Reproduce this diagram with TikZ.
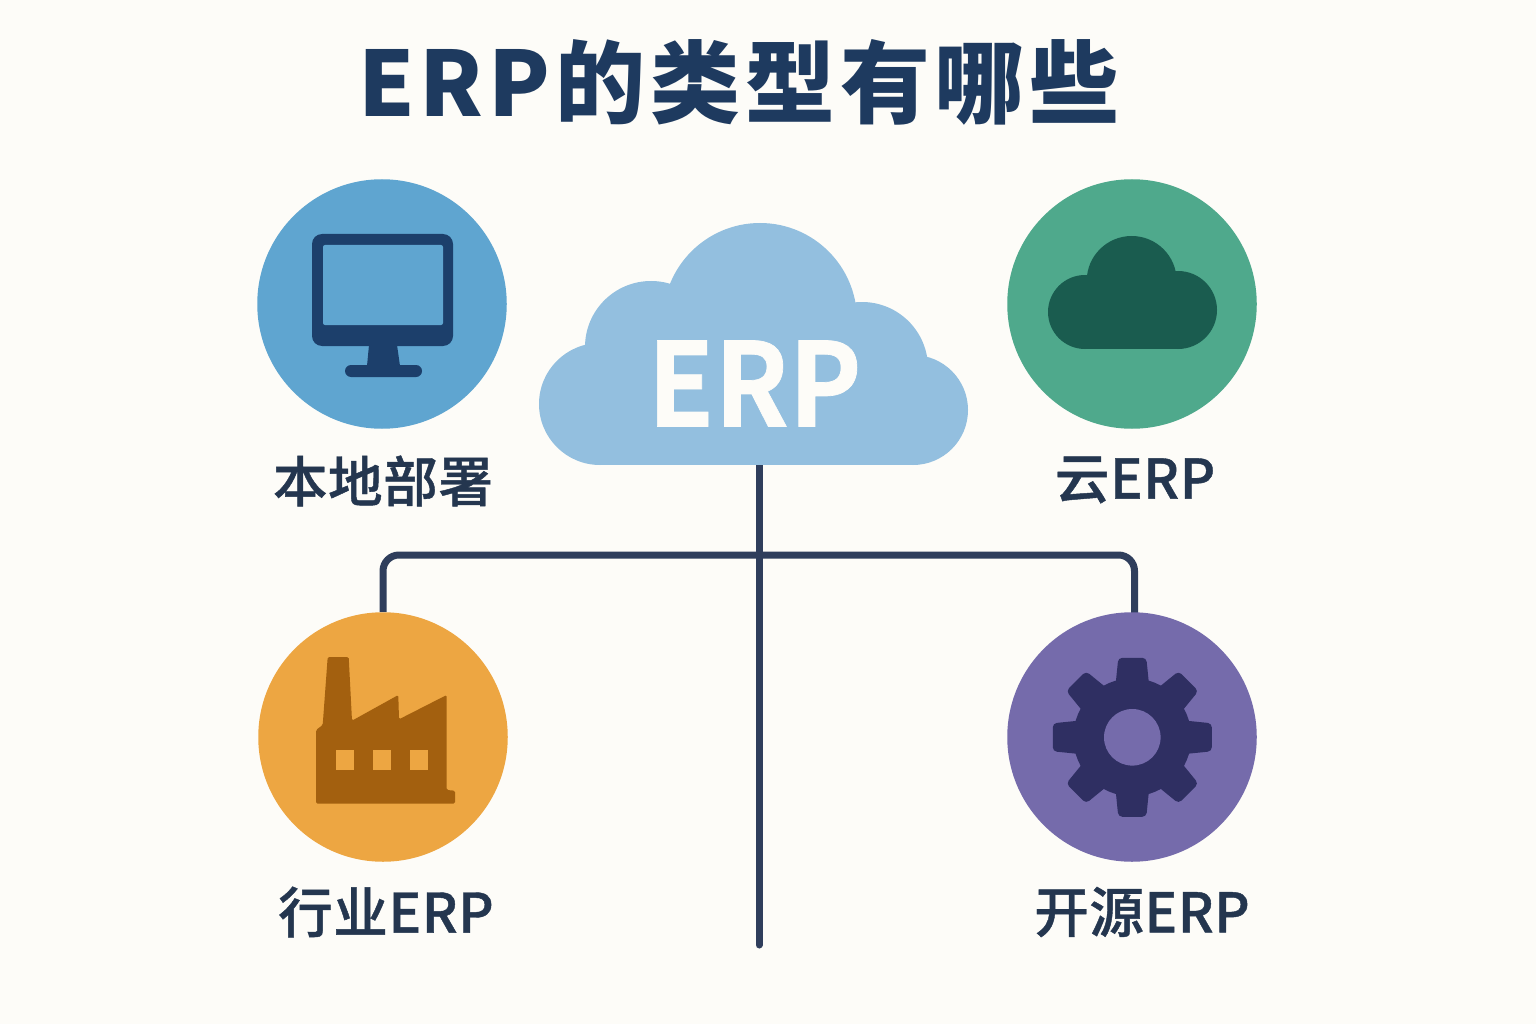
\documentclass[tikz,border=0pt]{standalone}
\usepackage{fontspec}
\newfontfamily\cjktitle[LetterSpace=5.5]{Noto Sans CJK SC Black}
\newfontfamily\cjkerp[FakeStretch=0.94,FakeBold=0.6]{Noto Sans CJK SC Bold}
\newfontfamily\cjkmed[FakeBold=0.8,LetterSpace=1.2]{Noto Sans CJK SC Medium}
\definecolor{bgc}{HTML}{FDFCF8}
\definecolor{titlec}{HTML}{1E3A5F}
\definecolor{labelc}{HTML}{24364F}
\definecolor{linec}{HTML}{2F3E5C}
\definecolor{cloudc}{HTML}{93BFDF}
\definecolor{bluec}{HTML}{5FA5D0}
\definecolor{blued}{HTML}{1C3F6B}
\definecolor{greenc}{HTML}{4FA98C}
\definecolor{greend}{HTML}{1A5C4F}
\definecolor{orangec}{HTML}{EDA642}
\definecolor{oranged}{HTML}{A3600F}
\definecolor{purplec}{HTML}{756BAB}
\definecolor{purpled}{HTML}{2F2F62}
\tikzset{
  disc/.style={circle,minimum size=249.5pt,inner sep=0pt,draw=none},
  lab/.style={text=labelc,font=\cjkmed\fontsize{54.5}{54.5}\selectfont,inner sep=0pt,anchor=center},
  conn/.style={draw=linec,line width=7pt},
  tooth/.style={fill=purpled,rounded corners=4pt},
}
\begin{document}
\begin{tikzpicture}[x=1pt,y=-1pt]
\useasboundingbox (0,0) rectangle (1536,1024);
\fill[bgc] (0,0) rectangle (1536,1024);

\node[text=titlec,font=\cjktitle\fontsize{90}{90}\selectfont,inner sep=0pt] (title) at (739,82) {ERP的类型有哪些};

\node[minimum width=420pt,minimum height=242pt,inner sep=0pt] (cloud) at (759,344) {};
\coordinate (tail) at (759,945);
\coordinate (hub) at (759,555);
\node[disc,fill=bluec] (local) at (382,304) {};
\node[disc,fill=greenc] (cloudtype) at (1132,304) {};
\node[disc] (industry) at (383,737) {};
\node[disc] (open) at (1132,737) {};
\coordinate (opentop) at (1134.5,615);

\draw[conn,rounded corners=16pt] (industry.north) -- (industry.north |- hub) -- (opentop |- hub) -- (opentop);
\draw[conn,line cap=round] (cloud.south) -- (tail);

\node[disc,fill=orangec] at (industry) {};
\node[disc,fill=purplec] at (open) {};

% cloud
\fill[cloudc] (600,404) circle (61pt);
\fill[cloudc] (651,347) circle (66pt);
\fill[cloudc] (760,320) circle (97pt);
\fill[cloudc] (862,368) circle (66pt);
\fill[cloudc] (913,410) circle (55pt);
\fill[cloudc] (600,370) rectangle (913,465);
\node[text=bgc,font=\cjkerp\fontsize{116}{116}\selectfont,inner sep=0pt] (erp) at (754.5,383.5) {ERP};

% monitor
\fill[blued,rounded corners=10pt] (312,234) rectangle (453,346);
\fill[bluec,rounded corners=2pt] (323,245) rectangle (443,325);
\fill[blued] (369,345) -- (397,345) -- (400,366) -- (367,366) -- cycle;
\fill[blued,rounded corners=6pt] (345,365) rectangle (422,377);

% green cloud
\fill[greend] (1131.7,281) circle (45pt);
\fill[greend] (1085,312) circle (37pt);
\fill[greend] (1178,310) circle (39pt);
\fill[greend] (1085,295) rectangle (1178,349.2);

% factory
\fill[oranged,rounded corners=1.5pt] (327.7,657) -- (348.7,657) -- (352,720.7) -- (398.3,695) -- (399,719.3) -- (446.7,695) -- (446.7,790) -- (455,790.7) -- (455,803.7) -- (316,803.7) -- (316,730) -- (322.7,725) -- cycle;
\fill[orangec] (335.7,750) rectangle (353.7,769.7);
\fill[orangec] (372.7,750) rectangle (391,769.7);
\fill[orangec] (410,750) rectangle (427.7,769.7);

% gear
\fill[purpled] (1132.3,737.3) circle (59pt);
\foreach \a in {0,45,...,315}{
  \begin{scope}[shift={(1132.3,737.3)},rotate=\a]
    \fill[tooth] (-17,-50) -- (-14,-79.5) -- (14,-79.5) -- (17,-50) -- cycle;
  \end{scope}
}
\fill[purplec] (1132.3,737.3) circle (28.3pt);

% labels
\node[lab] (l1) at (383,481) {本地部署};
\node[lab] (l2) at (1135,480) {云ERP};
\node[lab] (l3) at (386,912) {行业ERP};
\node[lab] (l4) at (1142,912) {开源ERP};
\end{tikzpicture}
\end{document}
